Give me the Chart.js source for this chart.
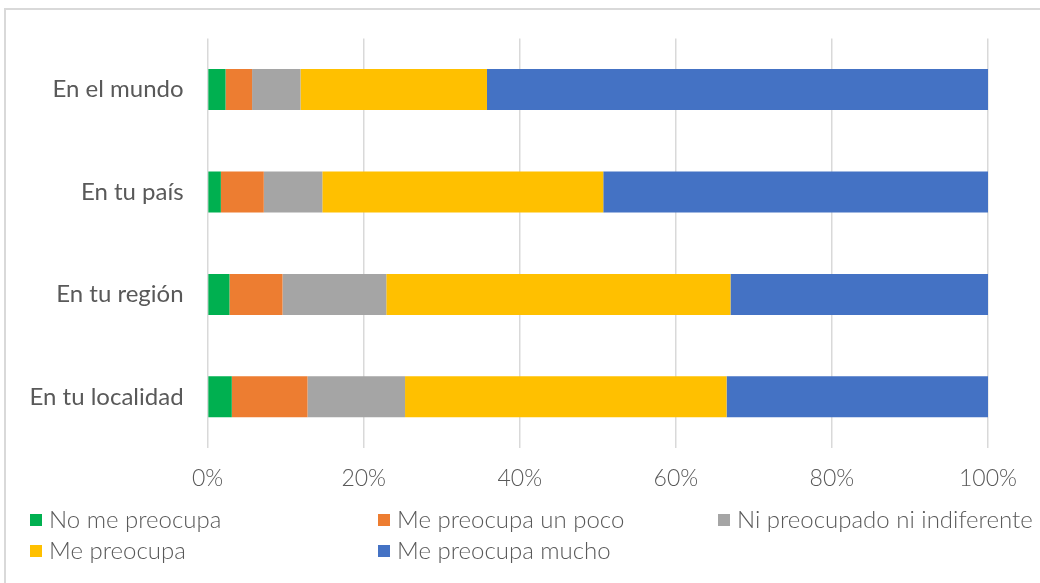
<!DOCTYPE html>
<html>
<head>
<meta charset="utf-8">
<script src="https://cdn.jsdelivr.net/npm/chart.js@4/dist/chart.umd.min.js"></script>
<style>
  html, body { margin: 0; padding: 0; background: #ffffff; }
  #wrap { position: relative; width: 1040px; height: 583px; }
  canvas { display: block; }
</style>
</head>
<body>
<div id="wrap"><canvas id="c" width="1040" height="583"></canvas></div>
<script>
// ---- data ----
const categories = ['En el mundo', 'En tu país', 'En tu región', 'En tu localidad'];
const seriesNames = ['No me preocupa', 'Me preocupa un poco', 'Ni preocupado ni indiferente', 'Me preocupa', 'Me preocupa mucho'];
const noMePreocupa = [2.3, 1.7, 2.8, 3.1];
const mePreocupaUnPoco = [3.4, 5.5, 6.8, 9.7];
const niPreocupado = [6.2, 7.5, 13.3, 12.5];
const mePreocupa = [23.9, 36.0, 44.1, 41.2];
const mePreocupaMucho = [64.2, 49.3, 33.0, 33.5];
const xTicks = [0, 20, 40, 60, 80, 100];

const colors = ['#00B050', '#ED7D31', '#A5A5A5', '#FFC000', '#4472C4'];
const seriesValues = [noMePreocupa, mePreocupaUnPoco, niPreocupado, mePreocupa, mePreocupaMucho];

const datasets = seriesNames.map((name, i) => ({
  label: name,
  data: seriesValues[i],
  backgroundColor: colors[i],
  borderWidth: 0,
  barPercentage: 0.4,
  categoryPercentage: 1.0
}));

// background + frame
const framePlugin = {
  id: 'frame',
  beforeDraw(chart) {
    const ctx = chart.ctx;
    ctx.save();
    ctx.fillStyle = '#ffffff';
    ctx.fillRect(0, 0, chart.width, chart.height);
    ctx.strokeStyle = '#d9d9d9';
    ctx.lineWidth = 2;
    ctx.strokeRect(5, 9, chart.width + 10, chart.height + 10);
    ctx.restore();
  }
};

// legend laid out in columns like the original
const legendPlugin = {
  id: 'colLegend',
  afterDraw(chart) {
    const ctx = chart.ctx;
    const colX = [30, 378, 718];
    const rowY = [520, 551];
    ctx.save();
    ctx.font = '300 24px Lato, "Open Sans", sans-serif';
    ctx.textBaseline = 'middle';
    ctx.textAlign = 'left';
    chart.data.datasets.forEach((ds, i) => {
      const col = i % 3, row = Math.floor(i / 3);
      const x = colX[col], y = rowY[row];
      ctx.fillStyle = ds.backgroundColor;
      ctx.fillRect(x, y - 6, 12, 12);
      ctx.fillStyle = '#595959';
      ctx.fillText(ds.label, x + 19, y);
    });
    ctx.restore();
  }
};

new Chart(document.getElementById('c'), {
  type: 'bar',
  data: { labels: categories, datasets },
  options: {
    indexAxis: 'y',
    responsive: false,
    animation: false,
    layout: { padding: { left: 0, right: 52, top: 37, bottom: 0 } },
    plugins: { legend: { display: false }, tooltip: { enabled: false } },
    scales: {
      x: {
        stacked: true,
        min: 0,
        max: 100,
        afterBuildTicks(scale) { scale.ticks = xTicks.map(v => ({ value: v })); },
        afterFit(scale) { scale.height = 135; },
        grid: { color: '#d9d9d9', lineWidth: 1.5, drawTicks: false },
        border: { display: false },
        ticks: {
          padding: 17,
          color: '#595959',
          font: { family: 'Lato, "Open Sans", sans-serif', size: 23, weight: 300 },
          callback: v => v + '%'
        }
      },
      y: {
        stacked: true,
        afterFit(scale) { scale.width = 207.6; },
        grid: { display: false, drawTicks: false },
        border: { display: false },
        ticks: {
          padding: 24,
          color: '#595959',
          font: { family: 'Lato, "Open Sans", sans-serif', size: 24 }
        }
      }
    }
  },
  plugins: [framePlugin, legendPlugin]
});
</script>
</body>
</html>
